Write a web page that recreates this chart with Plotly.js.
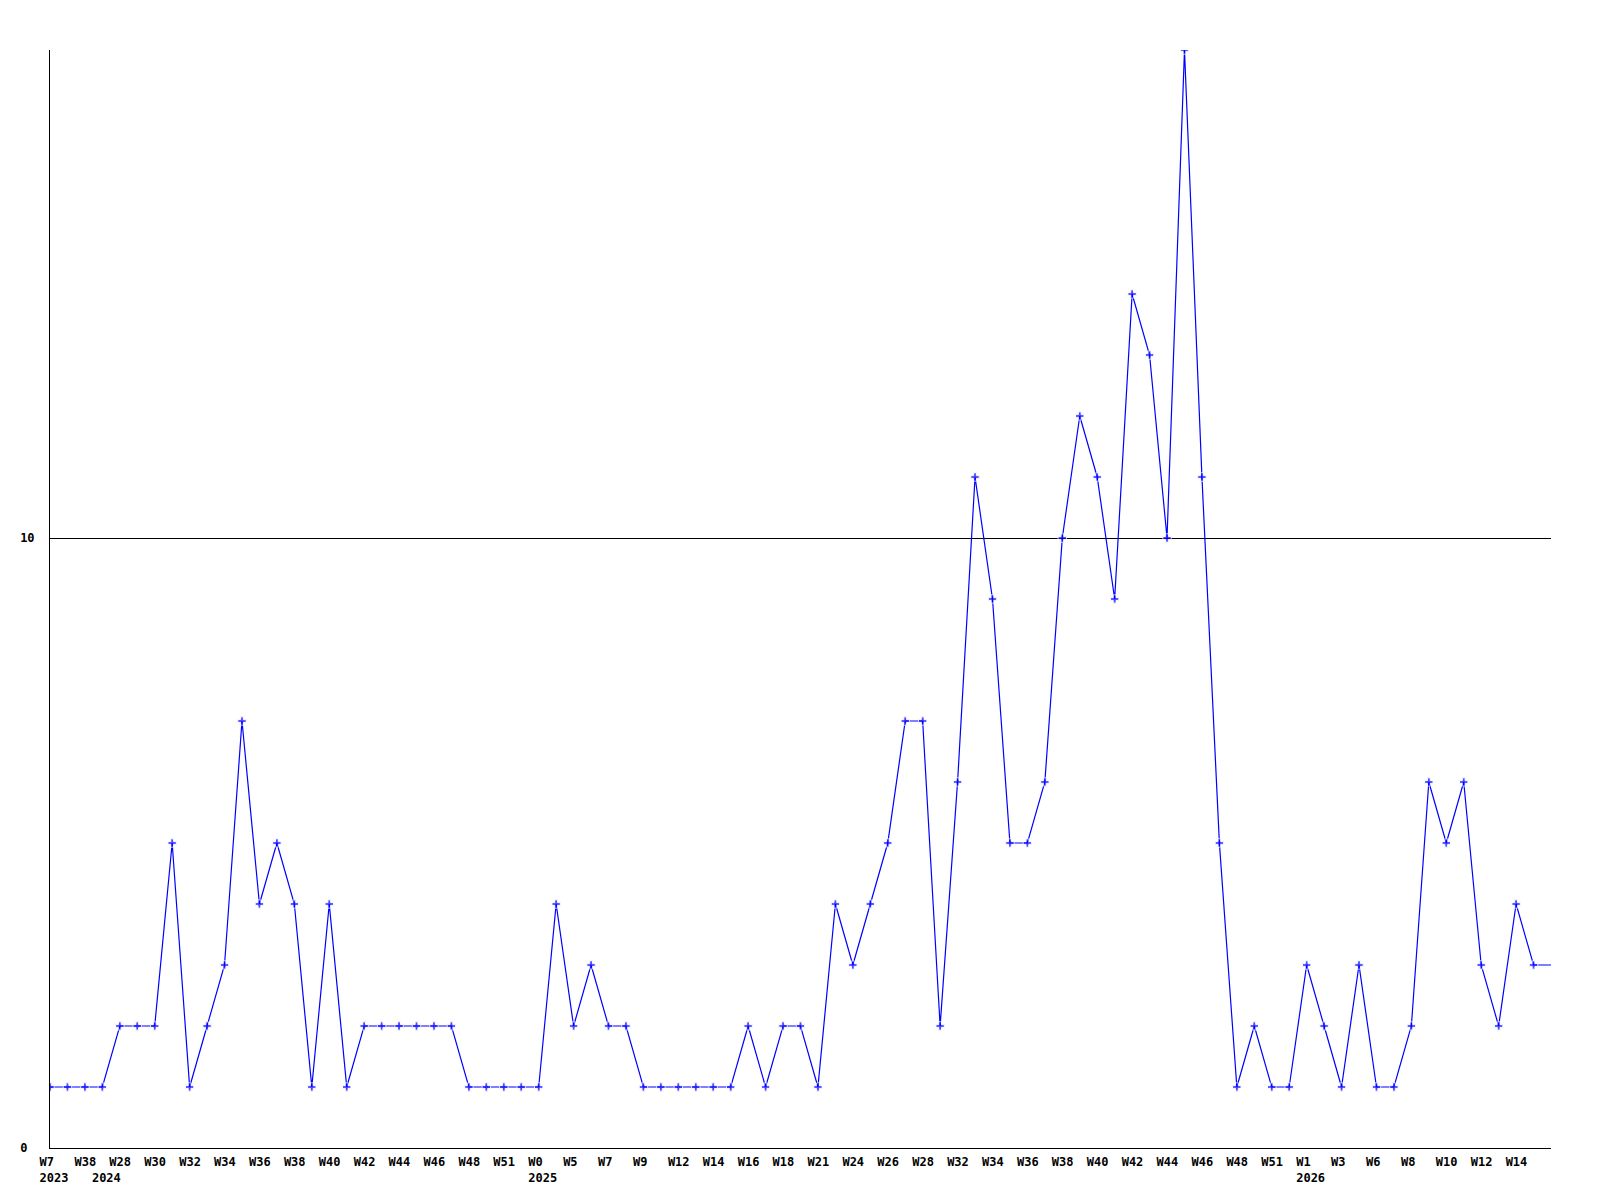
<!DOCTYPE html>
<html>
<head>
<meta charset="utf-8">
<script src="https://cdn.plot.ly/plotly-3.0.1.min.js"></script>
<style>html,body{margin:0;padding:0;background:#fff;}#chart{width:1600px;height:1200px;}</style>
</head>
<body>
<div id="chart"></div>
<script>
// Data (weeks grouped by year)
const weeks2023 = ["W7", "W22", "W38"];
const values2023 = [1, 1, 1];
const weeks2024 = ["W26", "W28", "W29", "W30", "W31", "W32", "W33", "W34", "W35", "W36", "W37", "W38", "W39", "W40", "W41", "W42", "W43", "W44", "W45", "W46", "W47", "W48", "W50", "W51", "W52"];
const values2024 = [1, 2, 2, 2, 5, 1, 2, 3, 7, 4, 5, 4, 1, 4, 1, 2, 2, 2, 2, 2, 2, 1, 1, 1, 1];
const weeks2025 = ["W0", "W3", "W5", "W6", "W7", "W8", "W9", "W11", "W12", "W13", "W14", "W15", "W16", "W17", "W18", "W20", "W21", "W23", "W24", "W25", "W26", "W27", "W28", "W30", "W32", "W33", "W34", "W35", "W36", "W37", "W38", "W39", "W40", "W41", "W42", "W43", "W44", "W45", "W46", "W47", "W48", "W50", "W51", "W52"];
const values2025 = [1, 4, 2, 3, 2, 2, 1, 1, 1, 1, 1, 1, 2, 1, 2, 2, 1, 4, 3, 4, 5, 7, 7, 2, 6, 11, 9, 5, 5, 6, 10, 12, 11, 9, 14, 13, 10, 18, 11, 5, 1, 2, 1, 1];
const weeks2026 = ["W1", "W2", "W3", "W5", "W6", "W7", "W8", "W9", "W10", "W11", "W12", "W13", "W14", "W15", "W16"];
const values2026 = [3, 2, 1, 3, 1, 1, 2, 6, 5, 6, 3, 2, 4, 3, 3];
const yTickVals = [0, 10];
const yTickText = ["0\u00A0", "10"];

const groups = [
  [2023, weeks2023, values2023],
  [2024, weeks2024, values2024],
  [2025, weeks2025, values2025],
  [2026, weeks2026, values2026]
];
const years = [], weeks = [], values = [];
groups.forEach(([yr, ws, vs]) => {
  ws.forEach((w, i) => { years.push(yr); weeks.push(w); values.push(vs[i]); });
});

// Build category ids and tick labels
const ids = weeks.map((w, i) => years[i] + "-" + w);
const pad = s => s + "\u00A0".repeat(Math.max(0, 4 - s.length));
const tickVals = [];
const tickText = [];
ids.forEach((id, i) => {
  if (i === ids.length - 1) return;
  const newYear = i === 0 || years[i] !== years[i - 1];
  const even = i % 2 === 0;
  if (!even && !newYear) return;
  let t = even ? pad(weeks[i]) : "\u00A0\u00A0\u00A0\u00A0";
  if (newYear) t += "<br>" + pad(String(years[i]));
  tickVals.push(id);
  tickText.push(t);
});

const fontFamily = "DejaVu Sans Mono, Liberation Mono, monospace";

const trace = {
  x: ids,
  y: values,
  type: "scatter",
  mode: "lines+markers",
  line: {color: "#0000ff", width: 1.2},
  marker: {
    color: "#0000ff",
    symbol: "cross",
    size: values.map((v, i) => i === values.length - 1 ? 0 : 7)
  },
  hoverinfo: "x+y"
};

const layout = {
  width: 1600,
  height: 1200,
  paper_bgcolor: "#ffffff",
  plot_bgcolor: "#ffffff",
  showlegend: false,
  margin: {l: 50, r: 49, t: 50, b: 52, pad: 0},
  font: {family: fontFamily, size: 12, color: "#000"},
  xaxis: {
    type: "category",
    range: [0, ids.length - 1],
    tickmode: "array",
    tickvals: tickVals,
    ticktext: tickText,
    tickangle: 0,
    ticks: "",
    showgrid: false,
    zeroline: false,
    showline: true,
    linecolor: "#000",
    linewidth: 1,
    ticklabelshift: 4,
    ticklabelstandoff: 3,
    tickfont: {family: fontFamily, size: 12, color: "#000", weight: "bold"}
  },
  yaxis: {
    range: [0, 18],
    tickmode: "array",
    tickvals: yTickVals,
    ticktext: yTickText,
    ticks: "",
    showgrid: true,
    gridcolor: "#000",
    gridwidth: 1,
    zeroline: false,
    showline: true,
    linecolor: "#000",
    linewidth: 1,
    ticklabelstandoff: 12,
    tickfont: {family: fontFamily, size: 12, color: "#000", weight: "bold"}
  }
};

Plotly.newPlot("chart", [trace], layout, {displayModeBar: false, staticPlot: true});
</script>
</body>
</html>
